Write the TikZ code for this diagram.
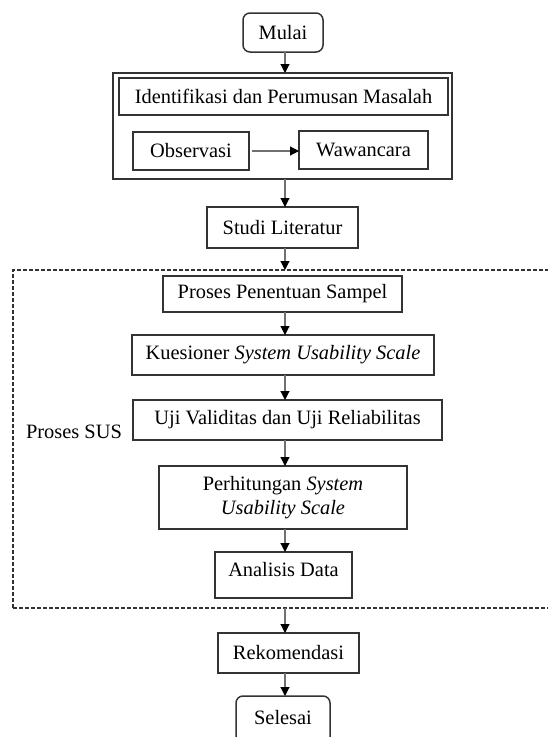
\documentclass[tikz,border=0pt]{standalone}
\usepackage{fontspec}
\setmainfont{Liberation Serif}
\usetikzlibrary{arrows.meta}
\definecolor{edge}{HTML}{333333}
\definecolor{wire}{HTML}{707070}
\tikzset{
  txt/.style={font=\fontsize{20.4}{24}\selectfont, text=black},
  box/.style={txt, draw=edge, line width=1.5pt, inner sep=0pt, outer sep=0pt, align=center},
  term/.style={box, rounded corners=7pt},
  frame/.style={draw=edge, line width=2pt, inner sep=0pt, outer sep=0pt},
  susframe/.style={draw=edge, line width=1.2pt, dash pattern=on 4pt off 2pt, inner sep=0pt, outer sep=0pt},
  flow/.style={draw=wire, line width=1.1pt, -{Triangle[length=9pt,width=9pt,color=black]}}
}
\begin{document}
\begin{tikzpicture}[x=1pt,y=-1pt]
\useasboundingbox (0,0) rectangle (547,737);

% start
\node[term, minimum width=80pt, minimum height=39pt] (mulai) at (283,32.5) {Mulai};

% problem identification group
\node[frame, minimum width=339pt, minimum height=106pt] (grp) at (282.5,126) {};
\node[box, minimum width=329pt, minimum height=37pt] (ident) at (283.5,96.5) {Identifikasi dan Perumusan Masalah};
\node[box, minimum width=116pt, minimum height=38pt] (obs) at (191,151) {Observasi};
\node[box, minimum width=129pt, minimum height=38pt] (waw) at (363.5,150) {Wawancara};

\node[box, minimum width=151pt, minimum height=41pt] (studi) at (282.5,227.5) {Studi Literatur};

% SUS process
\node[susframe, minimum width=537pt, minimum height=338pt] (sus) at (281.5,439) {};
\node[txt] (suslabel) at (74,432) {Proses SUS};
\node[box, minimum width=239pt, minimum height=36pt] (sampel) at (282.5,294) {Proses Penentuan Sampel};
\node[box, minimum width=302pt, minimum height=40pt] (kues) at (283,355) {Kuesioner \textit{System Usability Scale}};
\node[box, minimum width=309pt, minimum height=40pt] (uji) at (287.5,420) {Uji Validitas dan Uji Reliabilitas};
\node[box, minimum width=248pt, minimum height=63pt] (hitung) at (283,497.5) {Perhitungan \textit{System}\\\textit{Usability Scale}};
\node[box, minimum width=137pt, minimum height=46pt, text depth=12pt] (analisis) at (283.5,575) {Analisis Data};

\node[box, minimum width=141pt, minimum height=40pt] (rekom) at (288.5,653) {Rekomendasi};
% end terminal runs past the lower edge of the page
\node[term, minimum width=94pt, minimum height=54pt, text depth=12pt] (selesai) at (283,723) {Selesai};

% connectors
\coordinate (ax) at (285,0);
\draw[flow] (mulai.south -| ax) -- (grp.north -| ax);
\draw[flow, shorten <=3pt] (obs.east) -- (obs.east -| waw.west);
\draw[flow] (grp.south -| ax) -- (studi.north -| ax);
\draw[flow] (studi.south -| ax) -- (sus.north -| ax);
\draw[flow] (sampel.south -| ax) -- (kues.north -| ax);
\draw[flow] (kues.south -| ax) -- (uji.north -| ax);
\draw[flow] (uji.south -| ax) -- (hitung.north -| ax);
\draw[flow] (hitung.south -| ax) -- (analisis.north -| ax);
\draw[flow] (sus.south -| ax) -- (rekom.north -| ax);
\draw[flow] (rekom.south -| ax) -- (selesai.north -| ax);
\end{tikzpicture}
\end{document}
